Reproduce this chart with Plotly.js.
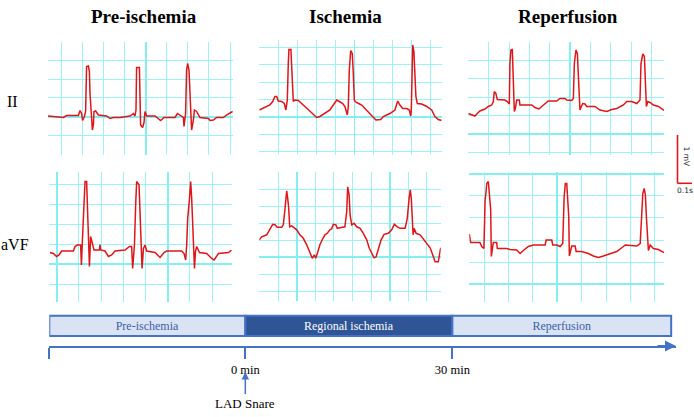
<!DOCTYPE html>
<html>
<head>
<meta charset="utf-8">
<script src="https://cdn.plot.ly/plotly-3.0.1.min.js"></script>
<style>html,body{margin:0;padding:0;background:#fff;}#chart{width:694px;height:417px;}</style>
</head>
<body>
<div id="chart"></div>
<script>
// ---------- DATA (time in ms, voltage in mV) ----------
const columnTitles = ["Pre-ischemia", "Ischemia", "Reperfusion"];
const leadLabels = ["II", "aVF"];

const preII_t = [0,52,77,93,152,160,168,173,182,188,193,202,207,210,215,222,227,230,238,252,293,310,327,360,410,427,435,440,443,457,460,463,473,480,485,493,535,552,563,580,635,647,660,677,680,688,693,698,705,710,718,727,732,743,760,802,810,827,843,877,893,923];
const preII_v = [0,-0.03,-0.03,0.01,0.01,0.11,0.05,-0.09,-0.01,0.09,0.99,1.00,0.89,0.45,0.05,-0.28,-0.18,0.09,0.10,0.02,0,-0.05,-0.03,-0.03,0,0.05,0,0.12,0.97,0.97,0.39,-0.18,-0.23,-0.13,0.09,0,0,-0.05,-0.09,-0.03,-0.03,0.05,0.02,-0.03,-0.21,0.05,0.92,1.05,0.92,0.29,-0.28,-0.08,0.12,0.09,-0.03,-0.05,-0.09,-0.08,-0.03,-0.03,0.02,0.09];

const ischII_t = [0,28,53,67,78,87,95,112,125,133,140,145,148,158,162,167,170,178,195,220,245,270,287,303,328,353,370,387,400,417,428,440,445,450,457,465,470,475,480,487,512,537,562,583,607,620,653,678,692,703,717,737,750,757,760,763,767,773,778,783,790,812,837,862,878,895,912];
const ischII_v = [0.14,0.19,0.24,0.31,0.41,0.41,0.32,0.31,0.27,0.14,0.34,1.07,1.35,1.35,1.01,0.61,0.31,0.34,0.33,0.24,0.14,0.04,-0.01,0.01,0.07,0.14,0.24,0.34,0.31,0.27,0.21,0.04,0.21,0.94,1.33,1.27,0.87,0.34,0.31,0.29,0.24,0.14,0.04,-0.06,-0.05,0.01,0.07,0.14,0.32,0.24,0.17,0.17,0.14,0.02,0.14,0.74,1.44,1.31,0.74,0.41,0.27,0.26,0.21,0.14,0.01,-0.05,-0.07];

const repII_t = [0,17,33,45,58,83,100,117,125,130,138,145,158,183,195,205,208,213,220,223,227,230,235,242,255,258,292,317,333,353,367,383,400,442,458,483,492,517,525,530,538,545,550,555,558,563,572,583,592,633,658,692,717,742,775,792,817,842,858,863,872,880,883,887,890,897,908,925,950,978];
const repII_v = [0.05,0.02,0,0.05,0.10,0.14,0.19,0.22,0.29,0.49,0.45,0.33,0.33,0.32,0.29,0.24,1.05,1.32,1.33,1.05,0.59,0.09,0.15,0.32,0.32,0.22,0.22,0.22,0.17,0.14,0.19,0.25,0.30,0.30,0.35,0.35,0.32,0.31,0.35,1.05,1.32,1.25,0.79,0.39,0.12,0.17,0.25,0.24,0.19,0.19,0.12,0.09,0.13,0.15,0.22,0.29,0.29,0.25,0.32,1.05,1.24,1.19,0.79,0.39,0.19,0.29,0.27,0.22,0.19,0.11];

const preAVF_t = [5,22,38,50,63,122,130,142,158,162,167,172,177,180,188,192,197,202,208,213,218,225,252,255,258,280,297,313,330,380,402,413,418,427,433,438,450,455,460,465,472,480,488,530,555,575,588,663,675,683,688,693,702,708,713,718,722,727,732,738,752,788,813,825,847,897,913];
const preAVF_v = [-0.05,-0.07,-0.13,-0.10,-0.02,-0.02,0.07,0.10,0.10,-0.30,0.20,0.70,0.90,1.37,1.37,0.83,0.30,-0.33,0.27,0.20,0.10,0,0,0.11,0,-0.02,-0.13,-0.10,-0.02,0,0.07,0.07,-0.37,0.10,0.90,1.37,1.30,0.70,0.13,-0.37,0.03,0.10,-0.02,-0.05,-0.15,-0.05,-0.02,-0.02,-0.07,-0.20,0.10,0.63,1.03,1.37,1.03,0.50,0.13,-0.37,-0.03,0.07,-0.05,-0.07,-0.17,-0.20,-0.07,-0.05,0];

const ischAVF_t = [0,12,37,53,67,78,90,112,120,127,132,137,142,147,152,162,175,187,203,220,237,253,265,275,282,292,303,317,328,340,353,362,370,383,390,403,428,437,442,449,454,462,474,487,504,520,537,550,562,574,584,595,609,624,645,662,675,690,704,729,740,749,755,760,765,769,774,784,804,820,837,854,867,879,895,904,907];
const ischAVF_v = [0.35,0.41,0.45,0.55,0.66,0.65,0.60,0.60,0.65,0.91,1.18,1.33,1.18,0.98,0.61,0.63,0.59,0.55,0.45,0.38,0.25,0.11,-0.02,0.05,-0.02,0.10,0.25,0.37,0.45,0.48,0.55,0.57,0.66,0.65,0.58,0.59,0.61,0.91,1.41,1.25,0.85,0.65,0.68,0.61,0.58,0.48,0.35,0.18,0.08,-0.01,0.01,0.18,0.35,0.46,0.48,0.55,0.66,0.61,0.58,0.58,0.78,1.18,1.35,1.18,0.85,0.45,0.58,0.48,0.45,0.37,0.28,0.19,0.05,-0.09,-0.09,0.11,0.19];

const repAVF_t = [0,7,53,62,73,79,84,87,95,100,107,110,115,120,137,140,187,204,237,254,270,295,320,379,384,412,417,437,454,467,474,480,487,492,497,500,507,512,529,534,562,595,620,645,670,704,737,770,779,837,854,862,867,874,880,885,890,895,904,920,945,973];
const repAVF_v = [0.12,-0.05,-0.05,-0.13,-0.17,0.80,0.97,1.13,1.17,0.87,0.60,-0.33,-0.20,-0.05,-0.05,-0.17,-0.17,-0.19,-0.20,-0.27,-0.21,-0.13,-0.10,-0.10,0,0,-0.10,-0.10,-0.13,-0.07,0.87,1.13,1.13,0.87,0.47,-0.32,-0.20,-0.12,-0.12,-0.23,-0.23,-0.27,-0.32,-0.35,-0.32,-0.28,-0.23,-0.13,-0.10,-0.12,-0.07,0.53,0.93,1.03,0.90,0.47,0.07,-0.21,-0.10,-0.17,-0.19,-0.25];

// timeline (minutes)
const phaseNames = ["Pre-ischemia", "Regional ischemia", "Reperfusion"];
const phaseStart = [-28.4, 0, 30];
const phaseEnd = [0, 30, 61.7];
const timeTickVals = [-28.4, 0, 30];
const timeTickText = ["", "0 min", "30 min"];
const markerLabel = "LAD Snare";
const markerTime = 0;
const scaleLabels = ["1 mV", "0.1s"];

// ---------- LAYOUT HELPERS ----------
const W = 694, H = 417;
const fx = p => p / W;
const fy = p => 1 - p / H;
const SERIF = "Liberation Serif";
const ECG_RED = "#e01419";
const GRID_MINOR = "#9df3f3";
const GRID_MAJOR = "#84eef0";

const panels = [
  {t: preII_t,  v: preII_v,  box: [48, 233, 42.3, 155],    xr: [0, 925], yr: [-0.78, 1.474], gx: [68.5, 105.2, 489, 526], gy: [-0.014, 0.376, -0.014, 1.88]},
  {t: ischII_t, v: ischII_v, box: [259.3, 441.7, 40, 155], xr: [0, 912], yr: [-0.76, 1.54],  gx: [0, 95.3, 476.5, 476.5], gy: [0, 0.347, 0, 1.735]},
  {t: repII_t,  v: repII_v,  box: [468.3, 664, 42.3, 155], xr: [0, 978], yr: [-0.78, 1.474], gx: [0, 101.7, 508, 508],    gy: [-0.36, 0.3668, -0.36, 1.834]},
  {t: preAVF_t, v: preAVF_v, box: [49, 231.7, 172, 302],   xr: [0, 913], yr: [-1.04, 1.56],  gx: [38.5, 111, 38.5, 555],   gy: [-0.286, 0.398, -0.286, 1.99]},
  {t: ischAVF_t,v: ischAVF_v,box: [259.3, 440.7, 172.3, 301], xr: [0, 907], yr: [-0.874, 1.70], gx: [1, 93, 187, 465],    gy: [0, 0.339, 0, 1.695]},
  {t: repAVF_t, v: repAVF_v, box: [469.3, 664, 171.7, 301.7], xr: [0, 973], yr: [-1.234, 1.366], gx: [73.5, 122, 439.5, 610], gy: [0, 0.442, -0.884, 2.21]}
];

function gridAxis(domain, range, g, anchor) {
  return {
    domain: domain, range: range, anchor: anchor,
    tickmode: "linear", tick0: g[2], dtick: g[3],
    showgrid: true, gridcolor: GRID_MAJOR, gridwidth: 1.7,
    minor: {tick0: g[0], dtick: g[1], showgrid: true, gridcolor: GRID_MINOR, gridwidth: 1, ticks: ""},
    ticks: "", showticklabels: false, zeroline: false, showline: false, fixedrange: true
  };
}

const traces = [];
const layout = {
  width: W, height: H,
  margin: {l: 0, r: 0, t: 0, b: 0, pad: 0},
  paper_bgcolor: "#ffffff", plot_bgcolor: "rgba(0,0,0,0)",
  showlegend: false,
  annotations: [], shapes: []
};

panels.forEach((p, i) => {
  const n = i + 1;
  const xa = "x" + n, ya = "y" + n;
  const b = p.box;
  layout["xaxis" + n] = gridAxis([fx(b[0]), fx(b[1])], p.xr, p.gx, ya);
  layout["yaxis" + n] = gridAxis([fy(b[3]), fy(b[2])], p.yr, p.gy, xa);
  traces.push({
    type: "scatter", mode: "lines", x: p.t, y: p.v, xaxis: xa, yaxis: ya,
    line: {color: ECG_RED, width: 1.5, shape: "linear"}, hoverinfo: "skip"
  });
});

// timeline axis
const tlLeft = 49.3, tlRight = 676, tlBase = 346, tlTop = 305;
layout.xaxis7 = {
  domain: [fx(tlLeft), fx(tlRight)], range: [-28.4, 62.4], anchor: "y7",
  showgrid: false, zeroline: false, showline: true, linecolor: "#4472c4", linewidth: 2,
  tickmode: "array", tickvals: timeTickVals, ticktext: timeTickText,
  ticks: "outside", ticklen: 11, tickwidth: 2, tickcolor: "#4472c4",
  tickfont: {family: SERIF, size: 12.5, color: "#000"}, fixedrange: true
};
layout.yaxis7 = {domain: [fy(tlBase), fy(tlTop)], range: [0, 1], anchor: "x7", visible: false, fixedrange: true};

traces.push({
  type: "bar", orientation: "h", xaxis: "x7", yaxis: "y7",
  base: phaseStart,
  x: phaseEnd.map((e, i) => e - phaseStart[i]),
  y: phaseNames.map(() => 0.4915), width: 0.495,
  text: phaseNames, textposition: "inside", insidetextanchor: "middle", textangle: 0,
  constraintext: "none",
  insidetextfont: {family: SERIF, size: 12, color: ["#3b5fa6", "#ffffff", "#3b5fa6"]},
  textfont: {family: SERIF, size: 12, color: ["#3b5fa6", "#ffffff", "#3b5fa6"]},
  marker: {color: ["#dae3f3", "#2f5597", "#dae3f3"], line: {color: "#4472c4", width: 2}},
  hoverinfo: "skip"
});

// arrow head at end of timeline axis
layout.annotations.push({
  xref: "x7", yref: "y7", axref: "x7", ayref: "y7",
  x: 62.4, y: 0, ax: 59.5, ay: 0, text: "", showarrow: true,
  arrowhead: 2, arrowsize: 1.1, arrowwidth: 2, arrowcolor: "#4472c4"
});
// LAD snare marker
layout.annotations.push({
  xref: "x7", yref: "paper", x: markerTime, y: fy(372),
  ax: 0, ay: 31, text: markerLabel, showarrow: true,
  arrowhead: 2, arrowsize: 1, arrowwidth: 1.5, arrowcolor: "#4472c4", standoff: 0,
  font: {family: SERIF, size: 13, color: "#000"}
});

// column titles
const titleX = [143.6, 345, 567.5];
columnTitles.forEach((t, i) => layout.annotations.push({
  xref: "paper", yref: "paper", x: fx(titleX[i]), y: fy(17), xanchor: "center", yanchor: "middle",
  text: "<b>" + t + "</b>", showarrow: false, font: {family: SERIF, size: 19, color: "#000"}
}));
// lead labels
const leadPos = [[12, 101], [15, 244]];
leadLabels.forEach((t, i) => layout.annotations.push({
  xref: "paper", yref: "paper", x: fx(leadPos[i][0]), y: fy(leadPos[i][1]), xanchor: "center", yanchor: "middle",
  text: t, showarrow: false, font: {family: SERIF, size: 16, color: "#000"}
}));

// calibration bar
layout.shapes.push(
  {type: "line", xref: "paper", yref: "paper", x0: fx(677.5), x1: fx(677.5), y0: fy(135), y1: fy(183.3), line: {color: ECG_RED, width: 1.6}},
  {type: "line", xref: "paper", yref: "paper", x0: fx(677.5), x1: fx(692), y0: fy(183.3), y1: fy(183.3), line: {color: ECG_RED, width: 1.6}}
);
layout.annotations.push(
  {xref: "paper", yref: "paper", x: fx(686.5), y: fy(156), xanchor: "center", yanchor: "middle", textangle: 90,
   text: scaleLabels[0], showarrow: false, font: {family: "DejaVu Sans", size: 7.5, color: "#222"}},
  {xref: "paper", yref: "paper", x: fx(685), y: fy(190), xanchor: "center", yanchor: "middle",
   text: scaleLabels[1], showarrow: false, font: {family: "DejaVu Sans", size: 7.5, color: "#222"}}
);

Plotly.newPlot("chart", traces, layout, {staticPlot: true, displayModeBar: false});
</script>
</body>
</html>
